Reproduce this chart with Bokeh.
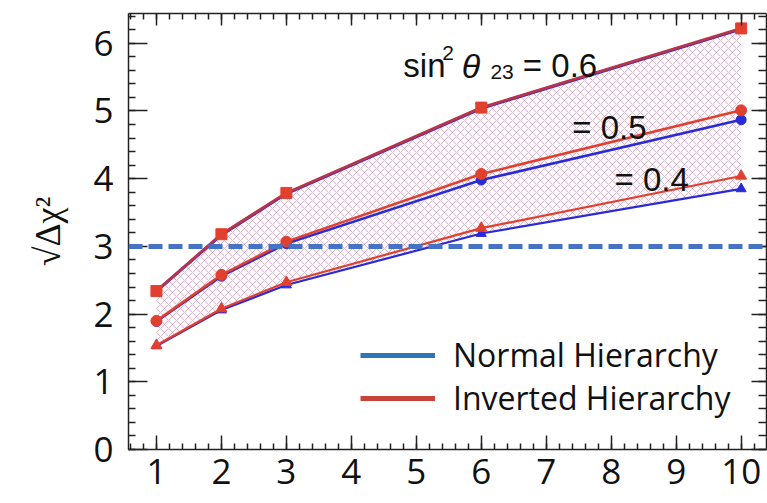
from bokeh.plotting import figure
from bokeh.models import (LinearAxis, FixedTicker, Span, Label, Legend, LegendItem, Range1d)
from bokeh.embed import file_html
from bokeh.resources import INLINE

# ---------------- data ----------------
years = [1, 2, 3, 6, 10]
ih_06 = [2.34, 3.18, 3.79, 5.05, 6.22]
nh_06 = [2.34, 3.17, 3.78, 5.04, 6.21]
ih_05 = [1.90, 2.58, 3.07, 4.07, 5.01]
nh_05 = [1.89, 2.56, 3.04, 3.98, 4.87]
ih_04 = [1.54, 2.08, 2.47, 3.27, 4.04]
nh_04 = [1.53, 2.06, 2.43, 3.19, 3.85]
threshold = 3
x_ticks = [1, 2, 3, 4, 5, 6, 7, 8, 9, 10]
y_ticks = [0, 1, 2, 3, 4, 5, 6]
x_minor = [i / 5 for i in range(0, 56)]
y_minor = [i / 5 for i in range(0, 34)]

BLUE = "#2a2ad6"
RED = "#e2402e"
TICK_FONT = "Open Sans"
ANN_FONT = "Liberation Sans"

p = figure(width=767, height=503, output_backend="svg", toolbar_location=None,
           x_range=Range1d(0.57, 10.39), y_range=Range1d(0, 6.44),
           x_axis_type=None, y_axis_type=None,
           min_border_left=128, min_border_right=1, min_border_top=13, min_border_bottom=54)
p.outline_line_color = None
p.xgrid.visible = False
p.ygrid.visible = False
p.background_fill_color = "white"

def style_axis(ax, ticks, minor, tin, min_in, labels=True):
    ax.ticker = FixedTicker(ticks=ticks, minor_ticks=minor)
    ax.major_tick_in = tin
    ax.major_tick_out = 0
    ax.minor_tick_in = min_in
    ax.minor_tick_out = 0
    ax.axis_line_width = 1.5
    ax.axis_line_color = "#222222"
    ax.major_tick_line_color = "#222222"
    ax.minor_tick_line_color = "#222222"
    ax.major_tick_line_width = 1.5
    ax.minor_tick_line_width = 1.5
    if labels:
        ax.major_label_text_font = TICK_FONT
        ax.major_label_text_font_size = "35px"
        ax.major_label_text_color = "#111111"
    else:
        ax.major_label_text_font_size = "0px"
        ax.major_label_standoff = 0
        ax.major_label_text_color = None

xb = LinearAxis()
style_axis(xb, x_ticks, x_minor, 14, 6)
xb.major_label_standoff = 9
p.add_layout(xb, "below")

yl = LinearAxis()
style_axis(yl, y_ticks, y_minor, 19, 7)
yl.major_label_standoff = 15
yl.axis_label = "√Δχ²"
yl.axis_label_text_font = "Liberation Serif"
yl.axis_label_text_font_style = "normal"
yl.axis_label_text_font_size = "36px"
yl.axis_label_text_color = "#111111"
yl.axis_label_standoff = 22
p.add_layout(yl, "left")

xt = LinearAxis()
style_axis(xt, x_ticks, x_minor, 12, 6, labels=False)
p.add_layout(xt, "above")

yr = LinearAxis()
style_axis(yr, y_ticks, y_minor, 15, 8, labels=False)
p.add_layout(yr, "right")

# hatched band
p.varea(x=years, y1=nh_04, y2=ih_06, fill_color="#fdf4f7", fill_alpha=0.6,
        hatch_pattern="diagonal_cross", hatch_color="#7e4a7c", hatch_alpha=0.45,
        hatch_scale=8, hatch_weight=0.8)

# threshold
p.add_layout(Span(location=threshold, dimension="width", line_color="#4472c4",
                  line_width=5, line_dash="14 6"))

# normal hierarchy
p.line(years, nh_06, line_color=BLUE, line_width=3)
p.line(years, nh_05, line_color=BLUE, line_width=2.5)
p.scatter(years, nh_05, marker="circle", size=10, color=BLUE)
p.line(years, nh_04, line_color=BLUE, line_width=2.2)
p.scatter(years, nh_04, marker="triangle", size=10, color=BLUE)

# inverted hierarchy
p.line(years, ih_06, line_color="#b8344a", line_width=2.8)
p.scatter(years, ih_06, marker="square", size=11, color=RED)
p.line(years, ih_05, line_color=RED, line_width=2.5)
p.scatter(years, ih_05, marker="circle", size=11, color=RED)
p.line(years, ih_04, line_color=RED, line_width=2.2)
p.scatter(years, ih_04, marker="triangle", size=11, color=RED)

# annotations
def lab(x, y, t, size, style="normal"):
    p.add_layout(Label(x=x, y=y, text=t, text_font=ANN_FONT, text_font_size=size,
                       text_font_style=style, text_baseline="alphabetic",
                       text_color="#111111"))

lab(4.80, 5.67, "sin", "33px")
lab(5.40, 5.85, "2", "21px")
lab(5.70, 5.67, "θ", "34px", "italic")
lab(6.14, 5.57, "23", "21px")
lab(6.64, 5.67, "= 0.6", "33px")
lab(7.40, 4.76, "= 0.5", "33px")
lab(8.05, 3.99, "= 0.4", "33px")

# legend (hidden renderers carry the legend styling)
r_nh = p.line(years, nh_05, line_color="#2f74b5", line_width=5, visible=False)
r_ih = p.line(years, ih_05, line_color="#c8443a", line_width=5, visible=False)
leg = Legend(items=[LegendItem(label="Normal Hierarchy", renderers=[r_nh]),
                    LegendItem(label="Inverted Hierarchy", renderers=[r_ih])],
             location=(232, 30), padding=0, margin=0, spacing=-8,
             glyph_width=75, glyph_height=34, label_height=34, label_standoff=18,
             label_text_font=TICK_FONT, label_text_font_size="32px",
             label_text_color="#111111", click_policy="none",
             border_line_color=None, background_fill_alpha=0)
p.add_layout(leg)

open("out.html", "w").write(file_html(p, INLINE))
